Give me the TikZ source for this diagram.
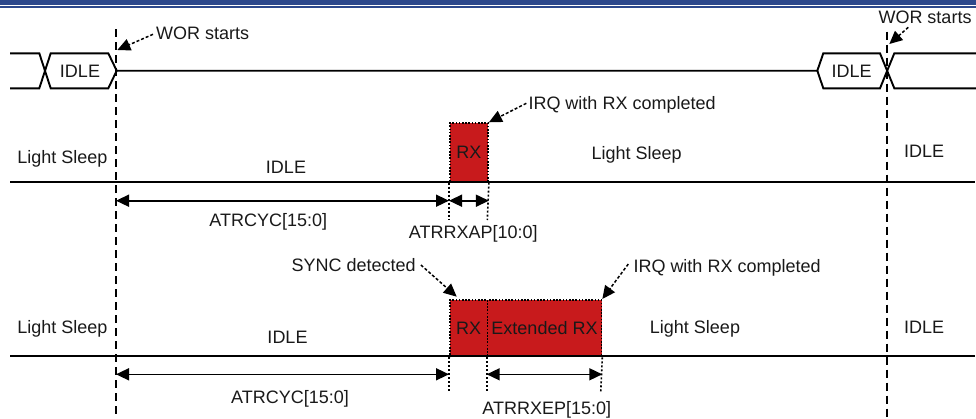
\documentclass[tikz,border=0pt]{standalone}
\usepackage{fontspec}
\setmainfont{Liberation Sans}
\usetikzlibrary{arrows.meta}
\definecolor{rxred}{RGB}{200,26,28}
\definecolor{navy}{RGB}{44,72,140}
\definecolor{txt}{RGB}{25,25,25}
\begin{document}
\begin{tikzpicture}[x=1pt,y=-1pt,
  lbl/.style={font=\fontsize{18}{21}\selectfont, inner sep=0pt, text=txt, text height=12.9pt, text depth=0pt},
  sig/.style={line width=1.9pt, line join=miter},
  vdash/.style={line width=1.8pt, dash pattern=on 8pt off 5pt},
  vdot/.style={line width=1.6pt, dash pattern=on 2pt off 2pt},
  callout/.style={line width=1.5pt, dash pattern=on 3pt off 2pt, -{Triangle[length=13pt,width=12pt]}},
  dim/.style={line width=1.6pt, {Triangle[length=13pt,width=12pt]}-{Triangle[length=13pt,width=12pt]}},
  rxbox/.style={fill=rxred, draw=black, line width=1.6pt, dash pattern=on 1.6pt off 1.6pt, inner sep=0pt, anchor=north west,
     font=\fontsize{18}{21}\selectfont, text=txt}
]
\useasboundingbox (0,0) rectangle (976,418);
% top band
\fill[navy] (0,0) rectangle (976,4.5);
\fill[navy] (0,6) rectangle (976,7.6);

% vertical dashed markers
\coordinate (vLtop) at (116,29);
\coordinate (vLbot) at (116,418);
\coordinate (vRtop) at (887.3,31.7);
\coordinate (vRbot) at (887.3,418);
\draw[vdash] (vLtop) -- (vLbot);
\draw[vdash] (vRtop) -- (vRbot);

% top signal with IDLE states
\draw[sig] (10,53.3) -- (39.3,53.3) -- (50.7,88.3) -- (108.3,88.3) -- (116.7,70.7)
  -- (108.3,53.3) -- (50.7,53.3) -- (39.3,88.3) -- (10,88.3);
\node[lbl] (idleA) at (80,70.7) {IDLE};
\draw[sig] (116.7,70.7) -- (817.3,70.7) -- (823.3,53.3) -- (880,53.3) -- (894.3,88.3) -- (976,88.3);
\draw[sig] (817.3,70.7) -- (823.3,88.3) -- (880,88.3) -- (894.3,53.3) -- (976,53.3);
\node[lbl] (idleB) at (851.5,70.7) {IDLE};

% WOR starts callouts
\node[lbl, anchor=west] (wor1) at (156,33.3) {WOR starts};
\coordinate (wor1t) at (117.3,50);
\draw[callout] ([xshift=-3pt,yshift=-1pt]wor1.west) -- (wor1t);
\node[lbl] (wor2) at (925,17.3) {WOR starts};
\coordinate (wor2s) at (908.3,27.3);
\coordinate (wor2t) at (889.3,44);
\draw[callout] (wor2s) -- (wor2t);

% ---------- row 1 ----------
\node[rxbox, minimum width=38.3pt, minimum height=58.7pt] (rx1) at (449,122.3) {RX};
\coordinate (b1L) at (10,181.7);
\coordinate (b1R) at (975,181.7);
\draw[sig] (b1L) -- (b1R);
\coordinate (d1a) at (449,220);
\coordinate (d1b) at (487.3,220);
\draw[vdot] (rx1.south west) -- (d1a);
\draw[vdot] (rx1.south east) -- (d1b);
\coordinate (a1) at (0,200.7);
\draw[dim] (vLtop |- a1) -- (rx1.south west |- a1);
\draw[dim] (rx1.south west |- a1) -- (rx1.south east |- a1);

\node[lbl] (ls1L) at (62.5,156.7) {Light Sleep};
\node[lbl] (idle1) at (286,166.7) {IDLE};
\node[lbl] (ls1R) at (636.7,152.7) {Light Sleep};
\node[lbl] (idle1R) at (924,150.7) {IDLE};
\node[lbl] (cyc1) at (268.3,220) {ATRCYC[15:0]};
\node[lbl] (rxap) at (473.3,232.3) {ATRRXAP[10:0]};
\node[lbl, anchor=west] (irq1) at (528.3,103.3) {IRQ with RX completed};
\draw[callout] ([xshift=-2pt]irq1.west) -- (rx1.north east);

% ---------- row 2 ----------
\node[rxbox, minimum width=37.7pt, minimum height=56.7pt] (rx2) at (449,299) {RX};
\node[rxbox, minimum width=114pt, minimum height=56.7pt] (ext2) at (486.7,299) {Extended RX};
\coordinate (b2L) at (10,355.7);
\coordinate (b2R) at (975,355.7);
\draw[sig] (b2L) -- (b2R);
\coordinate (d2a) at (449,393);
\coordinate (d2b) at (486.7,392);
\coordinate (d2c) at (600.7,393);
\draw[vdot] (rx2.south west) -- (d2a);
\draw[vdot] (ext2.south west) -- (d2b);
\draw[vdot] (ext2.south east) -- (d2c);
\coordinate (a2) at (0,374.3);
\draw[dim] (vLtop |- a2) -- (rx2.south west |- a2);
\draw[dim] (ext2.south west |- a2) -- (ext2.south east |- a2);

\node[lbl] (ls2L) at (62.5,327.3) {Light Sleep};
\node[lbl] (idle2) at (287.5,336.7) {IDLE};
\node[lbl] (ls2R) at (695,326.7) {Light Sleep};
\node[lbl] (idle2R) at (924,327.3) {IDLE};
\node[lbl] (cyc2) at (290,396.7) {ATRCYC[15:0]};
\node[lbl] (rxep) at (546.7,408.3) {ATRRXEP[15:0]};
\node[lbl] (sync) at (353.7,265) {SYNC detected};
\coordinate (synct) at (456.7,296.7);
\draw[callout] ([xshift=5pt]sync.east) -- (synct);
\node[lbl, anchor=west] (irq2) at (633.3,266) {IRQ with RX completed};
\draw[callout] ([xshift=-5pt,yshift=2pt]irq2.west) -- (ext2.north east);
\end{tikzpicture}
\end{document}
